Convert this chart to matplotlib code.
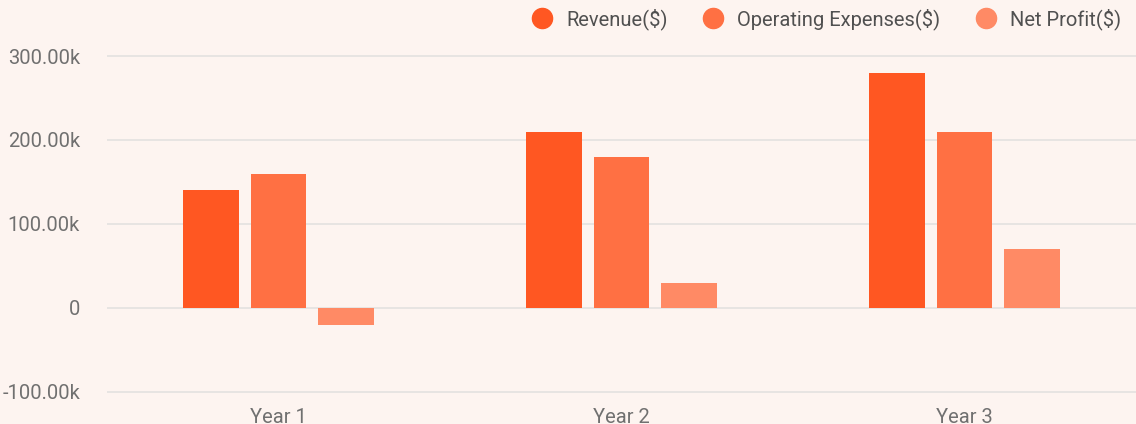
import matplotlib.pyplot as plt
from matplotlib.lines import Line2D
from matplotlib.ticker import FuncFormatter
import numpy as np

plt.rcParams['font.family'] = ['Roboto', 'DejaVu Sans']

years = ["Year 1", "Year 2", "Year 3"]
revenue = [140000, 210000, 280000]
expenses = [160000, 180000, 210000]
net_profit = [-20000, 30000, 70000]

series = [("Revenue($)", revenue, "#FF5722"),
          ("Operating Expenses($)", expenses, "#FF7043"),
          ("Net Profit($)", net_profit, "#FF8A65")]

bg = "#FDF4F0"
text_col = "#707070"

fig = plt.figure(figsize=(11.36, 4.24), dpi=100, facecolor=bg)
ax = fig.add_axes([107 / 1136, 26 / 424, 1 - 107 / 1136, 368 / 424])
ax.set_facecolor(bg)

x = np.arange(len(years))
width = 0.163
step = 0.198
for i, (name, vals, color) in enumerate(series):
    ax.bar(x + (i - 1) * step, vals, width=width, color=color, zorder=3)

ax.set_xlim(-0.5, 2.5)
ax.set_ylim(-107500, 331000)
ax.set_yticks([-100000, 0, 100000, 200000, 300000])


def fmt(v, pos):
    if v == 0:
        return "0"
    return f"{v / 1000:.2f}k"


ax.yaxis.set_major_formatter(FuncFormatter(fmt))
ax.set_xticks(x)
ax.set_xticklabels(years)
ax.tick_params(axis='both', length=0, labelsize=14.5, colors=text_col)
ax.tick_params(axis='y', pad=19.5)
ax.tick_params(axis='x', pad=7.5)
ax.grid(axis='y', color="#E3E1E0", linewidth=1.2, zorder=0)
for s in ax.spines.values():
    s.set_visible(False)

handles = [Line2D([], [], marker='o', linestyle='', markersize=14.5,
                  color=c, label=n) for n, _, c in series]
leg = fig.legend(handles=handles, loc='upper right',
                 bbox_to_anchor=(1 - 5 / 1136, 1 + 2 / 424),
                 ncol=3, frameon=False, fontsize=14.5, handletextpad=0.7,
                 columnspacing=1.75, handlelength=1.0, borderaxespad=0.1)
for t in leg.get_texts():
    t.set_color("#505050")

fig.savefig("out.png", dpi=100, facecolor=bg)
